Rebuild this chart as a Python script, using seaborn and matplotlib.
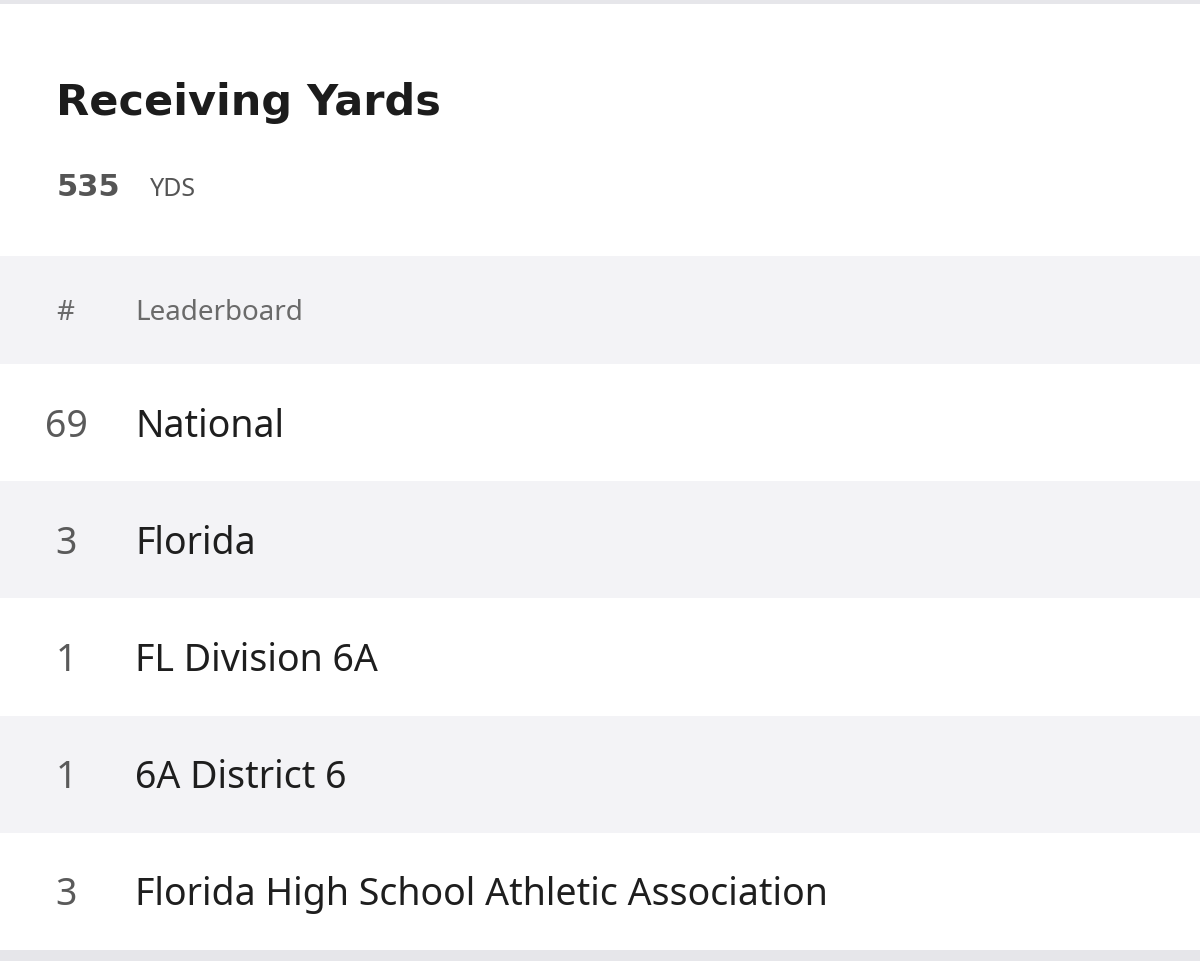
import matplotlib
matplotlib.use("Agg")
import matplotlib.pyplot as plt
import seaborn as sns

title = "Receiving Yards"
total_value = "535"
total_unit = "YDS"
header = ["#", "Leaderboard"]
ranks = [69, 3, 1, 1, 3]
boards = ["National", "Florida", "FL Division 6A", "6A District 6",
          "Florida High School Athletic Association"]

sns.set_theme(style="white")
plt.rcParams['font.family'] = ['Noto Sans', 'DejaVu Sans']

W, H = 1200, 962
fig = plt.figure(figsize=(12, 9.62), dpi=100)
ax = fig.add_axes([0, 0, 1, 1])
ax.set_xlim(0, W)
ax.set_ylim(H, 0)
ax.axis("off")

band = "#f3f3f6"
ax.axhspan(0, 5, color="#e6e6ea", lw=0)
ax.axhspan(951, H, color="#e6e6ea", lw=0)
ax.axhspan(257, 365, color=band, lw=0)

ax.text(56, 103, title, fontsize=31, fontweight="bold", family=["DejaVu Sans"],
        color="#1c1c1c", va="center")
ax.text(57, 187, total_value, fontsize=22, fontweight="bold", family=["DejaVu Sans"],
        color="#555555", va="center")
ax.text(150, 190, total_unit, fontsize=18, color="#555555", va="center")

ax.text(65, 313, header[0], fontsize=20, color="#6a6a6a", va="center", ha="center")
ax.text(135, 313, header[1], fontsize=20, color="#6a6a6a", va="center")

row_h = 117.2
for i, (r, b) in enumerate(zip(ranks, boards)):
    y0 = 365 + i * row_h
    if i % 2 == 1:
        ax.axhspan(y0, y0 + row_h, color=band, lw=0)
    yc = y0 + row_h / 2 + 3
    ax.text(66, yc, str(r), fontsize=27, color="#5a5a5a", va="center", ha="center")
    ax.text(135, yc, b, fontsize=27, color="#1e1e1e", va="center")

fig.savefig("out.png", dpi=100)
